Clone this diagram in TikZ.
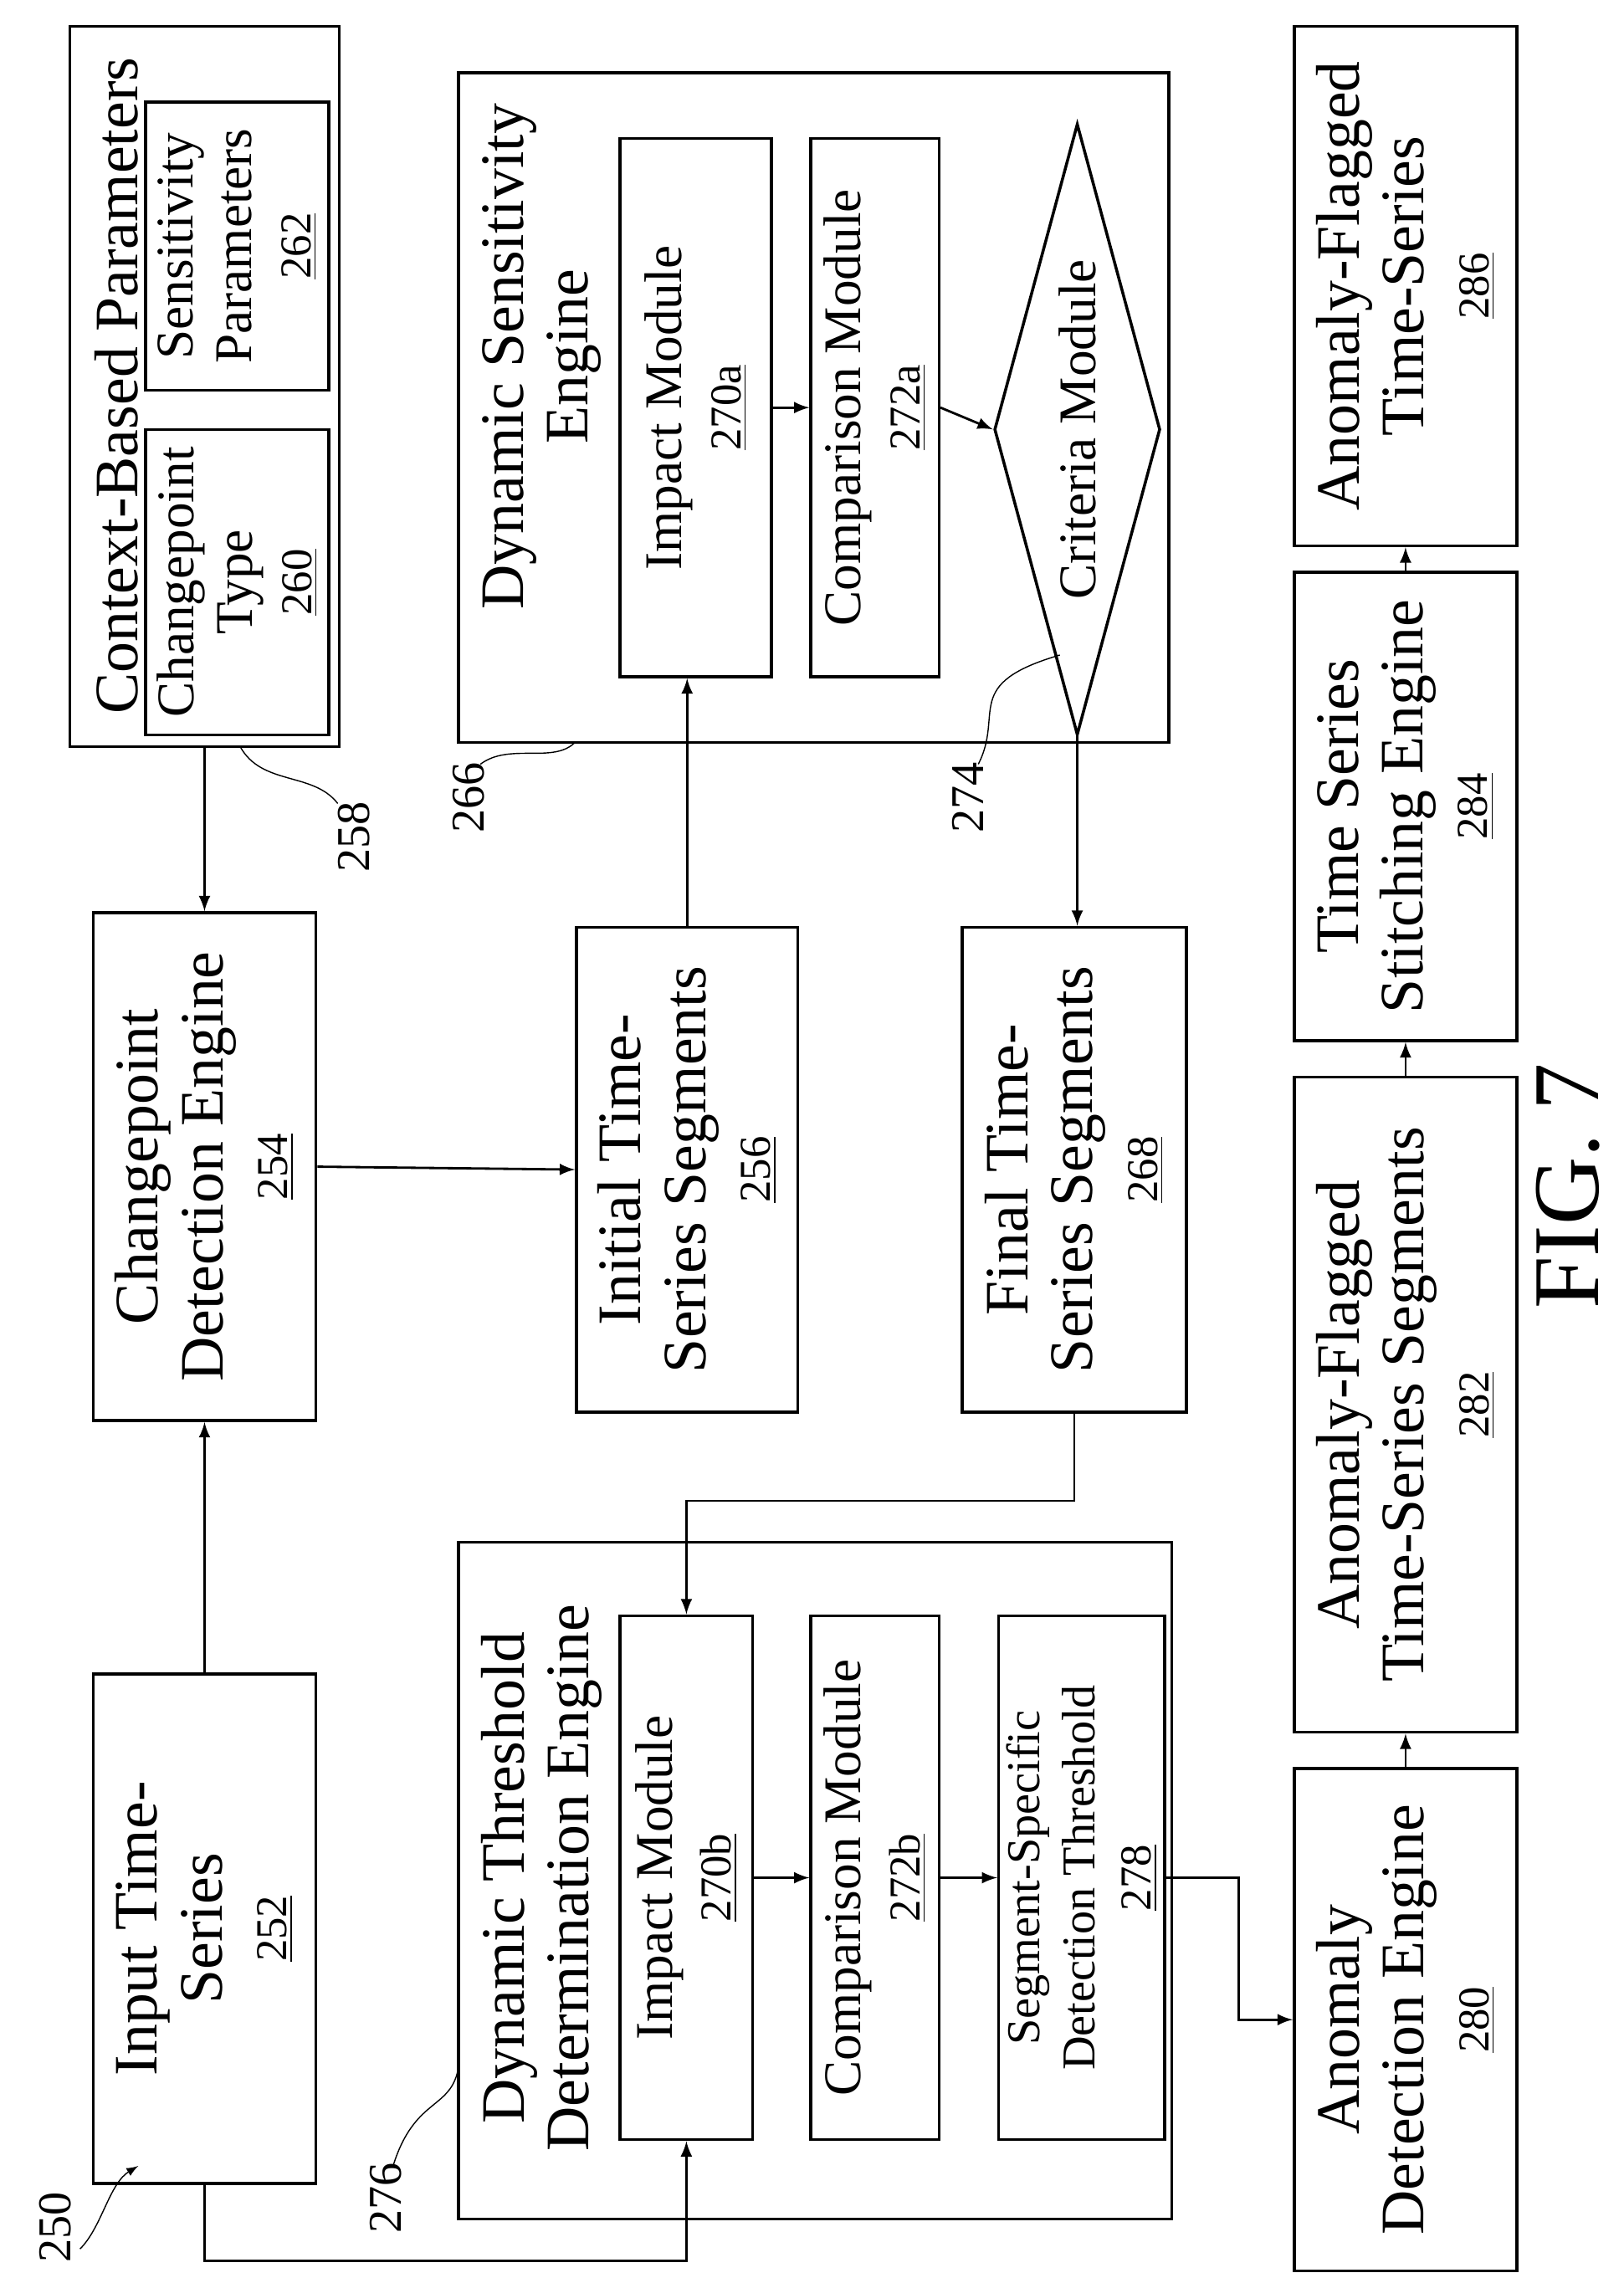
\documentclass[tikz,border=0pt]{standalone}
\usepackage{fontspec}
\setmainfont{Liberation Serif}
\usetikzlibrary{shapes.geometric, arrows, positioning, calc}
\newcommand{\px}{0.0174cm}
\newcommand{\rn}[1]{{\fontsize{15}{17}\selectfont\underline{#1}}}
\tikzset{
    blk/.style args={#1 by #2}{
        draw, rotate=90, align=center, inner sep=0pt,
        minimum width=#1*\px, minimum height=#2*\px,
        font=\fontsize{21}{22}\selectfont
    },
    mod/.style args={#1 by #2}{
        blk=#1 by #2, font=\fontsize{18}{20}\selectfont
    },
    ttl/.style={rotate=90, align=center, font=\fontsize{21}{22}\selectfont},
    lead/.style={thin},
    flow/.style={->, >=latex, thick}
}
\begin{document}
\begin{tikzpicture}[x=\px, y=-\px, line width=1pt]

\useasboundingbox (0,0) rectangle (1115,1565);

% containers
\node[blk=495 by 185] (ctx) at (140.5,265.5) {};
\node[ttl] at (80,265) {Context-Based Parameters};
\node[mod=210 by 126] (cpt) at (163,400) {Changepoint\\Type\\\rn{260}};
\node[mod=198 by 126] (sns) at (163,169) {Sensitivity\\Parameters\\\rn{262}};

\node[blk=460 by 488] (dse) at (559,280) {};
\node[ttl] at (372,245) {Dynamic Sensitivity\\Engine};
\node[mod=370 by 104] (imp1) at (478,280) {Impact Module\\\rn{270a}};
\node[mod=370 by 88] (cmp1) at (601,280) {Comparison Module\\\rn{272a}};
\node[draw, diamond, rotate=90, inner sep=0pt, shape aspect=3.7,
      minimum width=420*\px, minimum height=114*\px,
      font=\fontsize{18}{20}\selectfont] (crit) at (740,295) {Criteria Module};

\node[blk=465 by 490] (dtd) at (560,1292) {};
\node[ttl] at (372,1290) {Dynamic Threshold\\Determination Engine};
\node[mod=360 by 91] (imp2) at (471.5,1290) {Impact Module\\\rn{270b}};
\node[mod=360 by 88] (cmp2) at (601,1290) {Comparison Module\\\rn{272b}};
\node[mod=360 by 114, font=\fontsize{16}{19}\selectfont] (sst) at (743,1290) {Segment-Specific\\Detection Threshold\\\rn{278}};

% engines and data
\node[blk=350 by 153] (inp) at (140.5,1325) {Input Time-\\Series\\\rn{252}};
\node[blk=349 by 153] (cde) at (140.5,801.5) {Changepoint\\Detection Engine\\\rn{254}};
\node[blk=333 by 152] (ini) at (472,803.5) {Initial Time-\\Series Segments\\\rn{256}};
\node[blk=333 by 154] (fin) at (738,803.5) {Final Time-\\Series Segments\\\rn{268}};
\node[blk=345 by 153] (ade) at (965.5,1387.5) {Anomaly\\Detection Engine\\\rn{280}};
\node[blk=450 by 153] (afs) at (965.5,965) {Anomaly-Flagged\\Time-Series Segments\\\rn{282}};
\node[blk=322 by 153] (tss) at (965.5,554) {Time Series\\Stitching Engine\\\rn{284}};
\node[blk=357 by 153] (aft) at (965.5,196.5) {Anomaly-Flagged\\Time-Series\\\rn{286}};

\node[rotate=90, font=\fontsize{32}{32}\selectfont] (fig) at (1077,815) {FIG. 7};

% connectors
\draw[flow] (inp.east) -- (cde.west);
\draw[flow] (ctx.west) -- (cde.east);
\draw[flow] (cde.south) -- (ini.north);
\draw[flow] (ini.east) -- (ini.east |- imp1.west);
\draw[flow] (imp1.south) -- (cmp1.north);
\draw[flow] (cmp1.south) -- (crit.north);
\draw[flow] (crit.west) -- (crit.west |- fin.east);
\draw[flow] (fin.west) -- ++(0,60) -| (imp2.east);
\draw[flow] (inp.west) -- ++(0,52) -| (imp2.west);
\draw[flow] (imp2.south) -- (cmp2.north);
\draw[flow] (cmp2.south) -- (sst.north);
\draw[flow] (sst.south) -- ++(50,0) |- (ade.north);
\draw[flow] (ade.east) -- (afs.west);
\draw[flow] (afs.east) -- (tss.west);
\draw[flow] (tss.east) -- (aft.west);

% reference numerals
\node[rotate=90, font=\fontsize{16}{16}\selectfont] (n250) at (38,1530) {250};
\draw[flow, thin] (55,1545) .. controls (70,1530) and (75,1500) .. (95,1488);
\node[rotate=90, font=\fontsize{16}{16}\selectfont] (n258) at (243,575) {258};
\draw[lead] (165,513) .. controls (180,540) and (215,530) .. (232,552);
\node[rotate=90, font=\fontsize{16}{16}\selectfont] (n266) at (322,548) {266};
\draw[lead] (330,525) .. controls (350,510) and (380,525) .. (395,510);
\node[rotate=90, font=\fontsize{16}{16}\selectfont] (n274) at (665,548) {274};
\draw[lead] (672,525) .. controls (690,490) and (660,470) .. (728,450);
\node[rotate=90, font=\fontsize{16}{16}\selectfont] (n276) at (265,1510) {276};
\draw[lead] (270,1488) .. controls (285,1440) and (310,1450) .. (315,1420);

\end{tikzpicture}
\end{document}
